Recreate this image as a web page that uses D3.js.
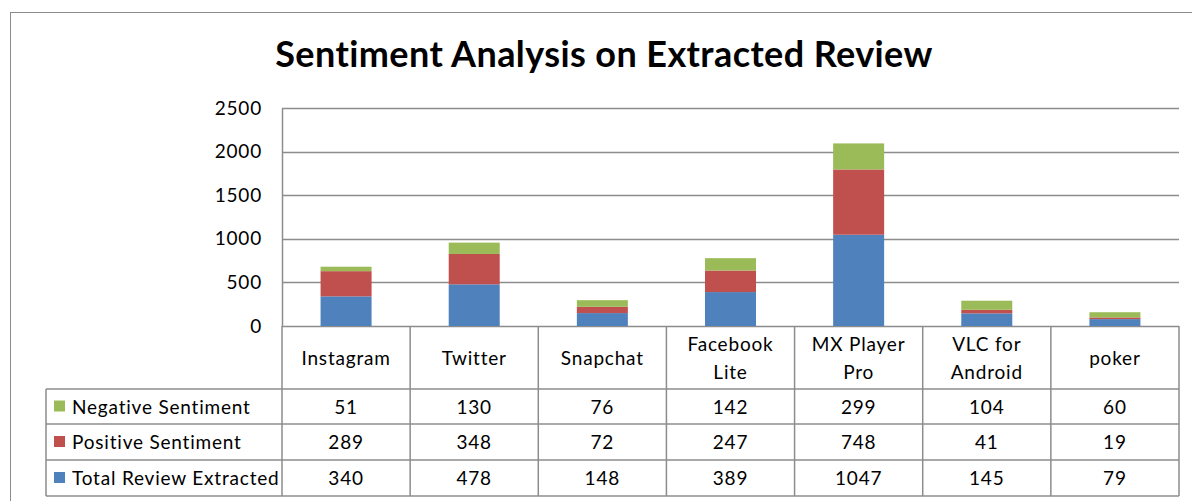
<!DOCTYPE html>
<html>
<head>
<meta charset="utf-8">
<script src="https://cdn.jsdelivr.net/npm/d3@7"></script>
<style>
  body { margin: 0; background: #fff; }
  svg { display: block; font-family: Lato, "Open Sans", sans-serif; }
</style>
</head>
<body>
<svg id="chart" width="1192" height="501"></svg>
<script>
const apps = ["Instagram", "Twitter", "Snapchat", "Facebook Lite", "MX Player Pro", "VLC for Android", "poker"];
const appLines = [["Instagram"], ["Twitter"], ["Snapchat"], ["Facebook", "Lite"], ["MX Player", "Pro"], ["VLC for", "Android"], ["poker"]];
const totalReview = [340, 478, 148, 389, 1047, 145, 79];
const positive = [289, 348, 72, 247, 748, 41, 19];
const negative = [51, 130, 76, 142, 299, 104, 60];
const seriesNames = ["Total Review Extracted", "Positive Sentiment", "Negative Sentiment"];
const seriesColors = ["#4f81bd", "#c0504d", "#9bbb59"];
const yTicks = [0, 500, 1000, 1500, 2000, 2500];

const svg = d3.select("#chart");
const plotLeft = 282, plotRight = 1179, plotTop = 108, zero = 326;
const rowY = [389, 424, 460, 496];
const legendLeft = 46;
const grid = "#8c8c8c";
const fs = 19, ls = 0.8;

// outer chart frame
svg.append("rect").attr("x", 10.5).attr("y", 12.5).attr("width", 1200).attr("height", 520)
  .attr("fill", "none").attr("stroke", "#8c8c8c");

svg.append("text").attr("x", 604).attr("y", 67).attr("text-anchor", "middle")
  .attr("font-size", 36).attr("font-weight", "bold").attr("fill", "#000")
  .attr("letter-spacing", 0.4)
  .text("Sentiment Analysis on Extracted Review");

const x = d3.scaleBand().domain(apps).range([plotLeft, plotRight]).paddingInner(0).paddingOuter(0);
const y = d3.scaleLinear().domain([0, 2500]).range([zero, plotTop]);

// gridlines
svg.append("g").selectAll("line").data(yTicks).join("line")
  .attr("x1", plotLeft).attr("x2", plotRight)
  .attr("y1", d => Math.round(y(d)) + 0.5).attr("y2", d => Math.round(y(d)) + 0.5)
  .attr("stroke", grid).attr("stroke-width", 1.5);

const yAxis = svg.append("g").attr("transform", `translate(${plotLeft},0)`)
  .call(d3.axisLeft(y).tickValues(yTicks).tickFormat(d3.format("d")).tickSize(0).tickPadding(20));
yAxis.select(".domain").attr("stroke", grid).attr("stroke-width", 1.5);
yAxis.selectAll("text").attr("font-size", fs).attr("letter-spacing", ls)
  .attr("fill", "#000").attr("font-family", "Lato, sans-serif");

// stacked bars
const rows = apps.map((a, i) => ({ app: a, s0: totalReview[i], s1: positive[i], s2: negative[i] }));
const stack = d3.stack().keys(["s0", "s1", "s2"])(rows);
const bw = 51;
svg.append("g").selectAll("g").data(stack).join("g")
  .attr("fill", (d, i) => seriesColors[i])
  .selectAll("rect").data(d => d).join("rect")
  .attr("x", d => x(d.data.app) + x.bandwidth() / 2 - bw / 2)
  .attr("width", bw)
  .attr("y", d => y(d[1]))
  .attr("height", d => y(d[0]) - y(d[1]));

// data table
const t = svg.append("g").attr("stroke", grid).attr("stroke-width", 1.5);
const bounds = apps.map(a => x(a)).concat([plotRight]);
t.selectAll(".v").data(bounds).join("line")
  .attr("x1", d => d).attr("x2", d => d).attr("y1", zero).attr("y2", rowY[3]);
t.selectAll(".h").data(rowY).join("line")
  .attr("x1", legendLeft).attr("x2", plotRight).attr("y1", d => d).attr("y2", d => d);
t.append("line").attr("x1", legendLeft).attr("x2", legendLeft).attr("y1", rowY[0]).attr("y2", rowY[3]);

const head = svg.append("g").attr("font-size", fs).attr("letter-spacing", ls)
  .attr("fill", "#000").attr("text-anchor", "middle");
appLines.forEach((lines, i) => {
  const cx = x(apps[i]) + x.bandwidth() / 2;
  const startY = lines.length === 1 ? 365 : 351;
  lines.forEach((l, j) => {
    head.append("text").attr("x", cx).attr("y", startY + j * 28).text(l);
  });
});

const tableRows = [
  { name: seriesNames[2], color: seriesColors[2], vals: negative },
  { name: seriesNames[1], color: seriesColors[1], vals: positive },
  { name: seriesNames[0], color: seriesColors[0], vals: totalReview }
];
tableRows.forEach((r, k) => {
  const cy = (rowY[k] + rowY[k + 1]) / 2;
  svg.append("rect").attr("x", 54).attr("y", cy - 6).attr("width", 11).attr("height", 11).attr("fill", r.color);
  svg.append("text").attr("x", 72).attr("y", cy + 7).attr("font-size", fs).attr("fill", "#000")
    .attr("letter-spacing", ls).text(r.name);
  r.vals.forEach((v, i) => {
    svg.append("text").attr("x", x(apps[i]) + x.bandwidth() / 2).attr("y", cy + 7)
      .attr("text-anchor", "middle").attr("font-size", fs).attr("letter-spacing", ls)
      .attr("fill", "#000").text(v);
  });
});
</script>
</body>
</html>
